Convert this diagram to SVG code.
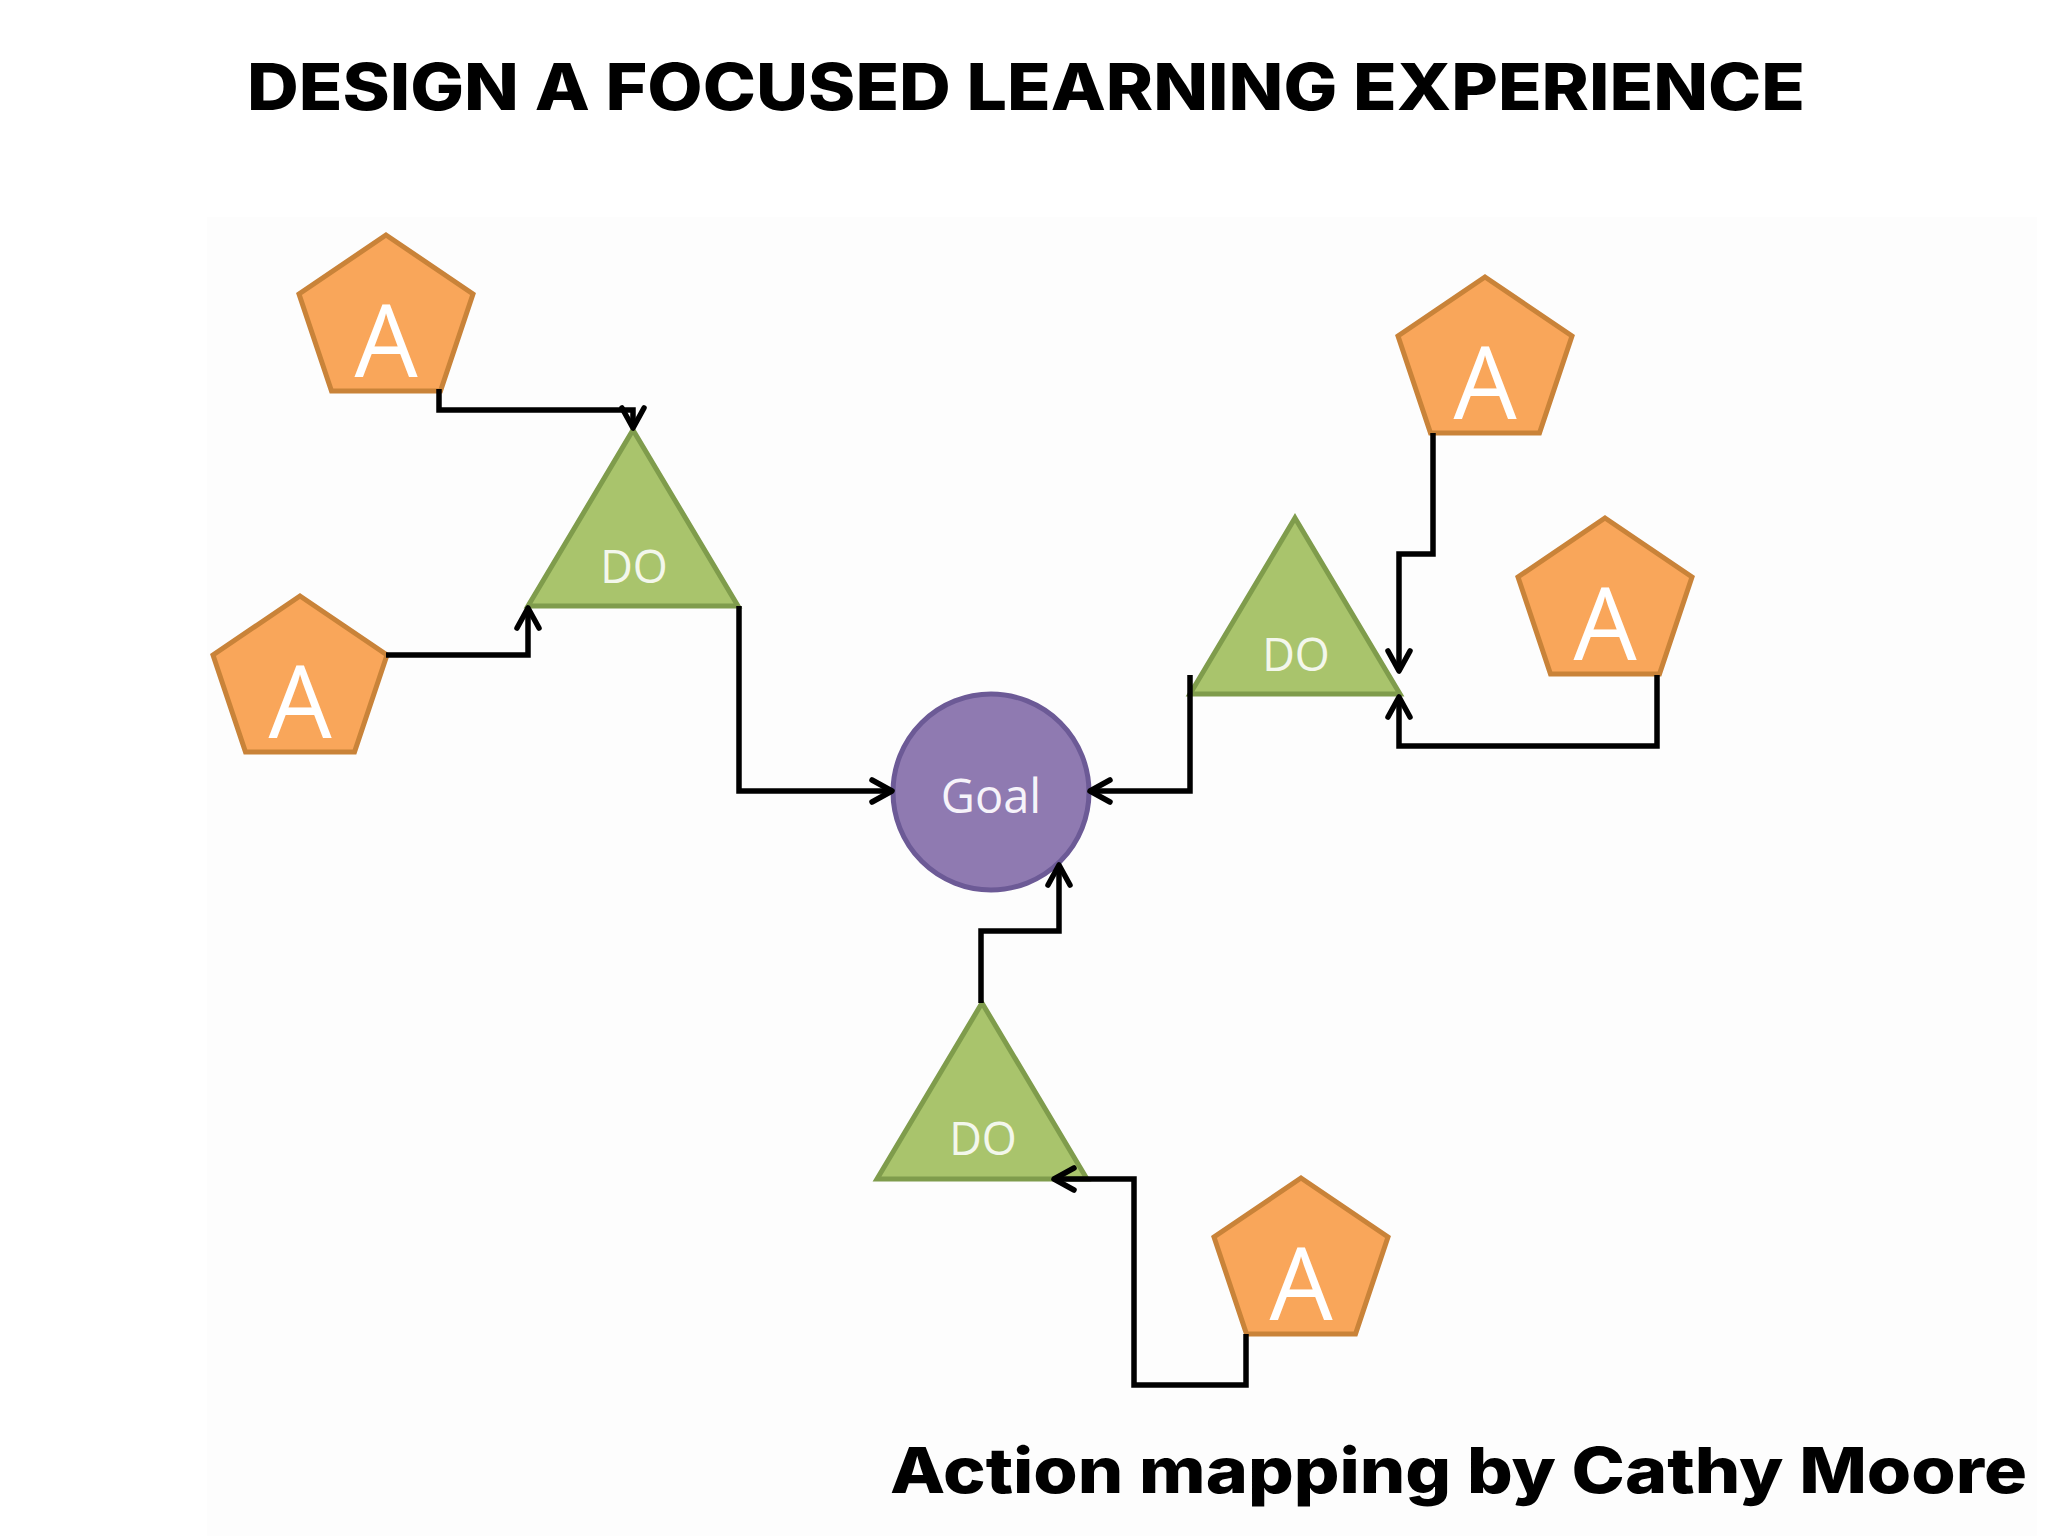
<svg xmlns="http://www.w3.org/2000/svg" xmlns:xlink="http://www.w3.org/1999/xlink" width="2048" height="1536" viewBox="0 0 2048 1536">
<style>
.pent{fill:#F9A65A;stroke:#C98339;stroke-width:5;stroke-linejoin:miter}
.tri{fill:#A9C46C;stroke:#7F9C4C;stroke-width:5;stroke-linejoin:miter}
.goal{fill:#8F7AB1;stroke:#6C5A96;stroke-width:5}
.a{font-family:"Open Sans","Noto Sans",sans-serif;font-size:100px;fill:#FFFFFF;text-anchor:middle}
.do{font-family:"Open Sans","Noto Sans",sans-serif;font-size:45px;fill:#F3F7EC;text-anchor:middle}
.gl{font-family:"Open Sans","Noto Sans",sans-serif;font-size:47px;fill:#F6F3FA;text-anchor:middle}
.conn path{fill:none;stroke:#000;stroke-width:5.5;stroke-linejoin:miter;marker-end:url(#arr)}
.hd{font-family:Inter,"Liberation Sans",sans-serif;font-weight:800;fill:#000}
</style>
<defs>
<polygon id="pentShape" points="0,0 87,59 54.5,156 -54.5,156 -87,59"/>
<polygon id="triShape" points="0,0 105,176 -105,176"/>
<marker id="arr" markerUnits="userSpaceOnUse" markerWidth="40" markerHeight="40" viewBox="-30 -20 40 40" refX="0" refY="0" orient="auto" overflow="visible">
<path d="M-20,-11 L0,0 L-20,11" fill="none" stroke="#000" stroke-width="5.5" stroke-linecap="round" stroke-linejoin="round"/>
</marker>
</defs>
<rect width="2048" height="1536" fill="#FFFFFF"/>
<rect x="207" y="217" width="1830" height="1319" fill="#FDFDFD"/>
<text class="hd" x="247" y="110" font-size="65" textLength="1558" lengthAdjust="spacingAndGlyphs">DESIGN A FOCUSED LEARNING EXPERIENCE</text>
<g id="a1"><use xlink:href="#pentShape" class="pent" x="386" y="235"/><text class="a" x="386" y="377">A</text></g>
<g id="a2"><use xlink:href="#pentShape" class="pent" x="300" y="596"/><text class="a" x="300" y="738">A</text></g>
<g id="a3"><use xlink:href="#pentShape" class="pent" x="1485" y="277"/><text class="a" x="1485" y="419">A</text></g>
<g id="a4"><use xlink:href="#pentShape" class="pent" x="1605" y="518"/><text class="a" x="1605" y="660">A</text></g>
<g id="a5"><use xlink:href="#pentShape" class="pent" x="1301" y="1178"/><text class="a" x="1301" y="1320">A</text></g>
<g id="do1"><use xlink:href="#triShape" class="tri" x="633" y="430"/><text class="do" x="634" y="583">DO</text></g>
<g id="do2"><use xlink:href="#triShape" class="tri" x="1295" y="518"/><text class="do" x="1296" y="671">DO</text></g>
<g id="do3"><use xlink:href="#triShape" class="tri" x="982" y="1003"/><text class="do" x="983" y="1155">DO</text></g>
<g id="goal"><circle class="goal" cx="991" cy="792" r="98"/><text class="gl" x="991" y="813">Goal</text></g>
<g class="conn" id="connectors">
<path d="M439,389 V410 H633 V428"/>
<path d="M386,655 H528 V608"/>
<path d="M739,606 V791 H892"/>
<path d="M1190,675 V791 H1090"/>
<path d="M981,1003 V931 H1059 V865"/>
<path d="M1433,433 V554 H1399 V671"/>
<path d="M1657,675 V746 H1399 V697"/>
<path d="M1246,1334 V1385 H1134 V1179 H1054"/>
</g>
<text class="hd" x="890" y="1493" font-size="63" textLength="1137" lengthAdjust="spacingAndGlyphs">Action mapping by Cathy Moore</text>
</svg>
